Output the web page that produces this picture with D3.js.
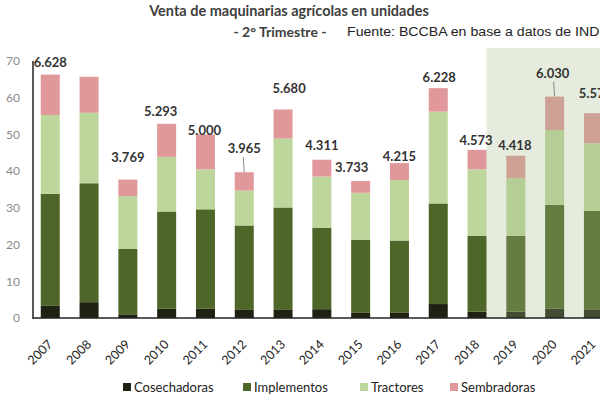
<!DOCTYPE html>
<html><head><meta charset="utf-8">
<script src="https://cdn.jsdelivr.net/npm/d3@7"></script>
<style>body{margin:0;background:#fff;} svg{display:block;}</style>
</head><body>
<svg id="c" width="600" height="400"></svg>
<script>
const years = ["2007","2008","2009","2010","2011","2012","2013","2014","2015","2016","2017","2018","2019","2020","2021"];
const cosechadoras = [3.3, 4.3, 1.0, 2.5, 2.5, 2.2, 2.2, 2.4, 1.4, 1.4, 3.8, 1.7, 1.7, 2.5, 2.2];
const implementos  = [30.5, 32.4, 17.8, 26.5, 27.1, 23.0, 27.9, 22.2, 19.9, 19.7, 27.4, 20.7, 20.7, 28.3, 27.0];
const tractores    = [21.5, 19.2, 14.4, 14.9, 10.9, 9.5, 18.8, 13.9, 12.8, 16.5, 25.0, 18.1, 15.7, 20.4, 18.4];
const sembradoras  = [11.0, 9.8, 4.5, 9.0, 9.5, 5.0, 7.9, 4.6, 3.2, 4.6, 6.4, 5.3, 6.1, 9.1, 8.2];
const totalLabels  = ["6.628", "", "3.769", "5.293", "5.000", "3.965", "5.680", "4.311", "3.733", "4.215", "6.228", "4.573", "4.418", "6.030", "5.578"];
const seriesNames  = ["Cosechadoras", "Implementos", "Tractores", "Sembradoras"];
const yTicks = [0, 10, 20, 30, 40, 50, 60, 70];
const highlightYears = ["2019", "2020", "2021"];

// layout-only label nudges [dx, dy above bar top, connector]
const labelNudge = [[0,-8,0],[0,0,0],[0,-18,0],[-6,-8,0],[-1,1,0],[0,-19,1],[6,-16,0],[0,-10,0],[-9,-9,0],[0,-2,0],[1,-6,0],[-1,-5,0],[-1,-6,0],[-2,-19,1],[2,-15,0]];

const colors = ["#1f2112", "#4f6629", "#bdd69b", "#e0989b"];

const series = [cosechadoras, implementos, tractores, sembradoras];
const table = years.map((y, i) => {
  const o = {year: y};
  seriesNames.forEach((n, k) => o[n] = series[k][i]);
  return o;
});
const stack = d3.stack().keys(seriesNames)(table);

const svg = d3.select("#c");
const x = d3.scaleBand().domain(years).range([33, 610.7]).paddingInner(0.51).paddingOuter(0.2);
const y = d3.scaleLinear().domain([0, 70]).range([318, 61]);

// title
svg.append("text").attr("x", 289).attr("y", 16).attr("text-anchor", "middle")
  .attr("font-family", "Lato, 'Open Sans', sans-serif").attr("font-weight", "bold").attr("font-size", 14.5)
  .attr("fill", "#404040").text("Venta de maquinarias agrícolas en unidades");
svg.append("text").attr("x", 280).attr("y", 37).attr("text-anchor", "middle")
  .attr("font-family", "Lato, 'Open Sans', sans-serif").attr("font-weight", "bold").attr("font-size", 14)
  .attr("fill", "#404040").text("- 2° Trimestre -");
svg.append("text").attr("x", 347).attr("y", 36)
  .attr("font-family", "'Liberation Sans Narrow', 'Liberation Sans', sans-serif").attr("font-size", 12.5)
  .attr("textLength", 272).attr("lengthAdjust", "spacingAndGlyphs")
  .attr("fill", "#222").text("Fuente: BCCBA en base a datos de INDEC");

// bars
svg.append("g").selectAll("g").data(stack).join("g").attr("fill", (d, i) => colors[i])
  .selectAll("rect").data(d => d).join("rect")
  .attr("x", d => x(d.data.year)).attr("width", x.bandwidth())
  .attr("y", d => y(d[1])).attr("height", d => y(d[0]) - y(d[1]));

// highlight overlay
const hx0 = x(highlightYears[0]) - (x.step() - x.bandwidth()) / 2 - 10;
svg.append("rect").attr("x", hx0).attr("y", 48).attr("width", 600 - hx0).attr("height", 318 - 48)
  .attr("fill", "#a2b984").attr("opacity", 0.28);

// y axis
const yAxis = d3.axisLeft(y).tickValues(yTicks).tickSize(0).tickPadding(13);
const ga = svg.append("g").attr("transform", "translate(33,0)").call(yAxis);
ga.select(".domain").remove();
ga.selectAll("text").attr("font-family", "Lato, 'Open Sans', sans-serif").attr("font-size", 12).attr("fill", "#8a8a8a");
svg.append("line").attr("x1", 33).attr("x2", 33).attr("y1", 61).attr("y2", 319).attr("stroke", "#222").attr("stroke-width", 1.5);

// x axis
const xAxis = d3.axisBottom(x).tickSize(0).tickPadding(0);
const gx = svg.append("g").attr("transform", "translate(0,318)").call(xAxis);
gx.select(".domain").attr("stroke", "#222").attr("stroke-width", 1.5).attr("d", "M33,0H600");
gx.selectAll("text").attr("font-family", "Lato, 'Open Sans', sans-serif").attr("font-size", 12.5).attr("fill", "#222")
  .attr("text-anchor", "end").attr("y", 0).attr("dy", 0).attr("transform", "translate(3,27) rotate(-45)");

// total labels
const totals = years.map((yy, i) => series.reduce((s, a) => s + a[i], 0));
const lg = svg.append("g");
years.forEach((yy, i) => {
  if (!totalLabels[i]) return;
  const cx = x(yy) + x.bandwidth() / 2;
  const top = y(totals[i]);
  const [dx, dy, conn] = labelNudge[i];
  lg.append("text").attr("x", cx + dx).attr("y", top + dy).attr("text-anchor", "middle")
    .attr("font-family", "Lato, 'Open Sans', sans-serif").attr("font-weight", "bold").attr("font-size", 13)
    .attr("fill", "#333").text(totalLabels[i]);
  if (conn) {
    lg.append("line").attr("x1", cx - 1).attr("x2", cx).attr("y1", top + dy + 4).attr("y2", top)
      .attr("stroke", "#888").attr("stroke-width", 1);
  }
});

// legend
const legX = [123, 243, 360, 450];
const leg = svg.append("g");
seriesNames.forEach((n, i) => {
  leg.append("rect").attr("x", legX[i]).attr("y", 383).attr("width", 8).attr("height", 8).attr("fill", colors[i]);
  leg.append("text").attr("x", legX[i] + 11).attr("y", 392)
    .attr("font-family", "Lato, 'Open Sans', sans-serif").attr("font-size", 13).attr("fill", "#222").text(n);
});
</script>
</body></html>
